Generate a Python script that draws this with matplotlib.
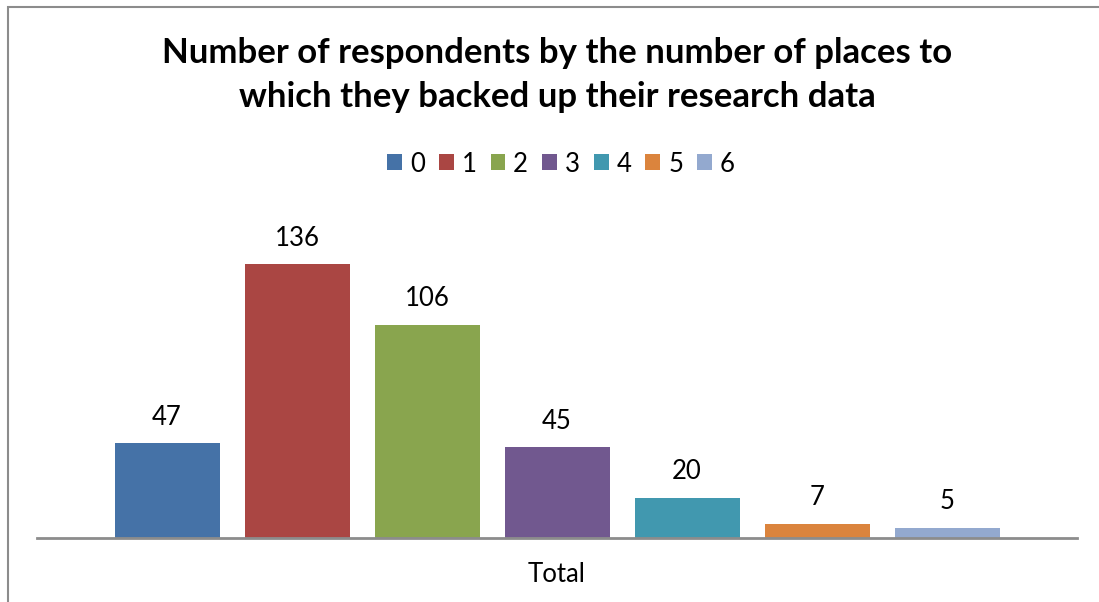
import matplotlib
matplotlib.use("Agg")
import matplotlib.pyplot as plt
from matplotlib.patches import Patch, Rectangle

title = "Number of respondents by the number of places to\nwhich they backed up their research data"
series = ["0", "1", "2", "3", "4", "5", "6"]
values = [47, 136, 106, 45, 20, 7, 5]
category = "Total"
colors = ["#4572A7", "#AA4643", "#89A54E", "#71588F", "#4198AF", "#DB843D", "#93A9CF"]

plt.rcParams['font.family'] = ['Lato', 'DejaVu Sans']

W, H = 1099, 602
fig = plt.figure(figsize=(W / 100, H / 100), dpi=100)

# chart border (only top and left visible in reference)
fig.add_artist(Rectangle((8 / W, -0.1), 1.2, (H - 7) / H + 0.1, transform=fig.transFigure,
                         fill=False, edgecolor="#8c8c8c", linewidth=1.5))

left, right = 37 / W, 1077 / W
bottom = (H - 538) / H
top_px = 216
ax = fig.add_axes([left, bottom, right - left, (538 - top_px) / H])

x = list(range(len(values)))
bars = ax.bar(x, values, width=105 / 130, color=colors, label=series)
for xi, v in zip(x, values):
    ax.annotate(str(v), (xi, v), xytext=(0, 26 / 1.389), textcoords="offset points",
                ha="center", va="center", fontsize=18.5, color="#000000")

ax.set_xlim(-1, 7)
ax.set_ylim(0, 160)
ax.set_yticks([])
ax.set_xticks([])
for s in ["top", "right", "left"]:
    ax.spines[s].set_visible(False)
ax.spines["bottom"].set_color("#8c8c8c")
ax.spines["bottom"].set_linewidth(2)

fig.text(557 / W, 1 - 574 / H, category, ha="center", va="center", fontsize=18.5)

fig.text(557 / W, 1 - 75 / H, title, ha="center", va="center", fontsize=25,
         fontweight="bold", linespacing=1.45)

handles = [Patch(facecolor=c, edgecolor="none") for c in colors]
fig.legend(handles, series, loc="center", bbox_to_anchor=(561 / W, 1 - 164 / H), ncol=7,
           frameon=False, fontsize=18.5, handlelength=0.58, handleheight=0.58,
           handletextpad=0.3, columnspacing=0.55)

fig.savefig("out.png", dpi=100)
